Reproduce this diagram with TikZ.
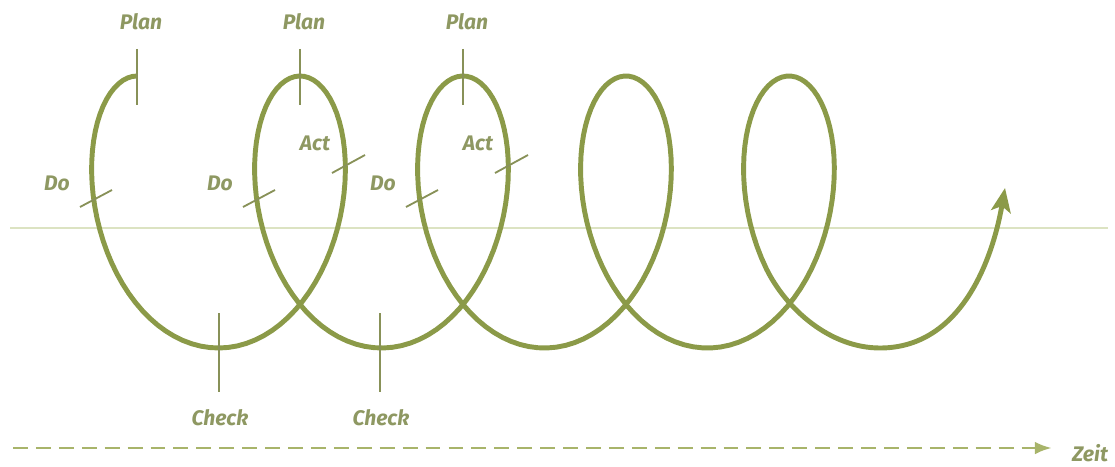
\documentclass[tikz,border=0pt]{standalone}
\usepackage{fontspec}
\setmainfont{Fira Sans}
\usetikzlibrary{arrows.meta}
\definecolor{Olive}{HTML}{8B9A48}
\definecolor{OliveText}{HTML}{8E9862}
\definecolor{OliveTick}{HTML}{889158}
\definecolor{PaleLine}{HTML}{DCE3C2}
\definecolor{DashOlive}{HTML}{A8B46A}

\begin{document}
\begin{tikzpicture}[
    x=0.025cm, y=-0.025cm,
    font=\fontsize{15}{18}\selectfont\bfseries\itshape,
    lbl/.style={text=OliveText, inner sep=0pt},
    spiral/.style={draw=Olive, line width=3.5pt},
    tickline/.style={draw=OliveTick, line width=1.3pt},
    axis/.style={draw=PaleLine, line width=1.6pt},
    timeline/.style={draw=DashOlive, line width=2pt, dash pattern=on 10.6pt off 5.7pt, -{Latex[length=12pt,width=9pt]}}
]
\useasboundingbox (0,0) rectangle (1115,466);

\draw[axis] (10,228) -- (1108,228);

% Spirale (Trochoide) mit freiem Auslauf
\draw[spiral, -{Stealth[length=17pt,width=14pt,inset=4pt]}]
  plot[domain=0:27.133, samples=320, variable=\t] ({137+25.94*\t-82*sin(\t r)}, {212-136*cos(\t r)})
  .. controls (786,309) and (830,348) .. (880,348)
  .. controls (960,348) and (992,262) .. (1005,188);

\foreach \i in {0,1,2}{
  \pgfmathsetmacro\xt{137+163*\i}
  \draw[tickline] (\xt,49) -- (\xt,105);
  \draw[tickline] (\xt-57,207) -- (\xt-25,190);
  \node[lbl] (plan\i) at (\xt+4,22) {Plan};
  \node[lbl] (do\i) at (\xt-80,183) {Do};
}
\foreach \i in {1,2}{
  \pgfmathsetmacro\xt{137+163*\i}
  \draw[tickline] (\xt+32,173) -- (\xt+65,155);
  \node[lbl] (act\i) at (\xt+15,143) {Act};
}
\foreach \i in {0,1}{
  \pgfmathsetmacro\xb{219+161*\i}
  \draw[tickline] (\xb,313) -- (\xb,392);
  \node[lbl] (check\i) at (\xb+1,418) {Check};
}

\node[lbl] (zeit) at (1090,453) {Zeit};
\coordinate (tstart) at (13,448);
\draw[timeline, shorten >=0.5cm] (tstart) -- (tstart -| zeit.west);
\end{tikzpicture}
\end{document}
